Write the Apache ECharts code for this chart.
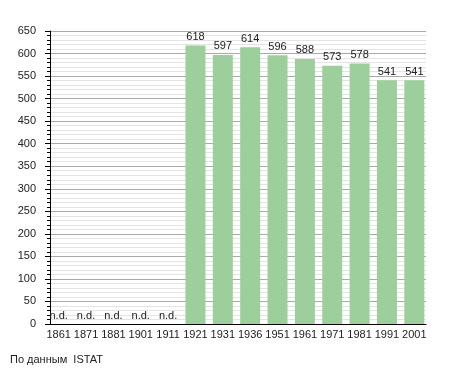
<!DOCTYPE html>
<html><head><meta charset="utf-8">
<script src="https://cdn.jsdelivr.net/npm/echarts@6/dist/echarts.min.js"></script>
<style>html,body{margin:0;padding:0;background:#fff}#c{width:455px;height:373px}</style>
</head><body><div id="c"></div>
<script>
var years = ['1861','1871','1881','1901','1911','1921','1931','1936','1951','1961','1971','1981','1991','2001'];
var population = [null,null,null,null,null,618,597,614,596,588,573,578,541,541];
var yTicks = {min:0, max:650, interval:50};
var source = 'По данным  ISTAT';

var font = 'Liberation Sans, Arial, sans-serif';
var chart = echarts.init(document.getElementById('c'), null, {renderer:'canvas'});
chart.setOption({
  animation:false,
  textStyle:{fontFamily:font},
  grid:[
    {left:50, right:29, top:31, bottom:49},
    {left:45, right:27, top:31, bottom:49}
  ],
  graphic:[{type:'text', left:10, top:354, style:{text:source, font:'11px '+font, fill:'#222'}}],
  xAxis:[
    {type:'category', gridIndex:0, data:years, axisLine:{lineStyle:{color:'#000'}}, axisTick:{show:false}, axisLabel:{show:false}},
    {type:'category', gridIndex:1, data:years, axisLine:{show:false}, axisTick:{show:false},
     axisLabel:{color:'#222', fontSize:11, margin:5, interval:0}}
  ],
  yAxis:[
    {type:'value', gridIndex:0, min:yTicks.min, max:yTicks.max, interval:yTicks.interval,
     axisLine:{show:true, lineStyle:{color:'#000'}},
     axisTick:{show:true, length:5, lineStyle:{color:'#000'}},
     minorTick:{show:true, splitNumber:5, length:3, lineStyle:{color:'#000'}},
     axisLabel:{color:'#222', fontSize:11, margin:14},
     splitLine:{show:true, lineStyle:{color:'#aaaaaa'}},
     minorSplitLine:{show:true, lineStyle:{color:'#e4e4e4'}}},
    {type:'value', gridIndex:1, min:yTicks.min, max:yTicks.max, interval:yTicks.interval, show:false, splitLine:{show:false}}
  ],
  series:[{
    type:'bar', xAxisIndex:1, yAxisIndex:1, barWidth:20,
    data: population.map(function(v){return v===null?0:v;}),
    itemStyle:{color:'#9ccf9c'},
    label:{show:true, position:'top', distance:3, color:'#222', fontSize:11, fontFamily:font,
      formatter:function(p){return population[p.dataIndex]===null?'n.d.':String(p.value);}}
  }]
});
</script></body></html>
